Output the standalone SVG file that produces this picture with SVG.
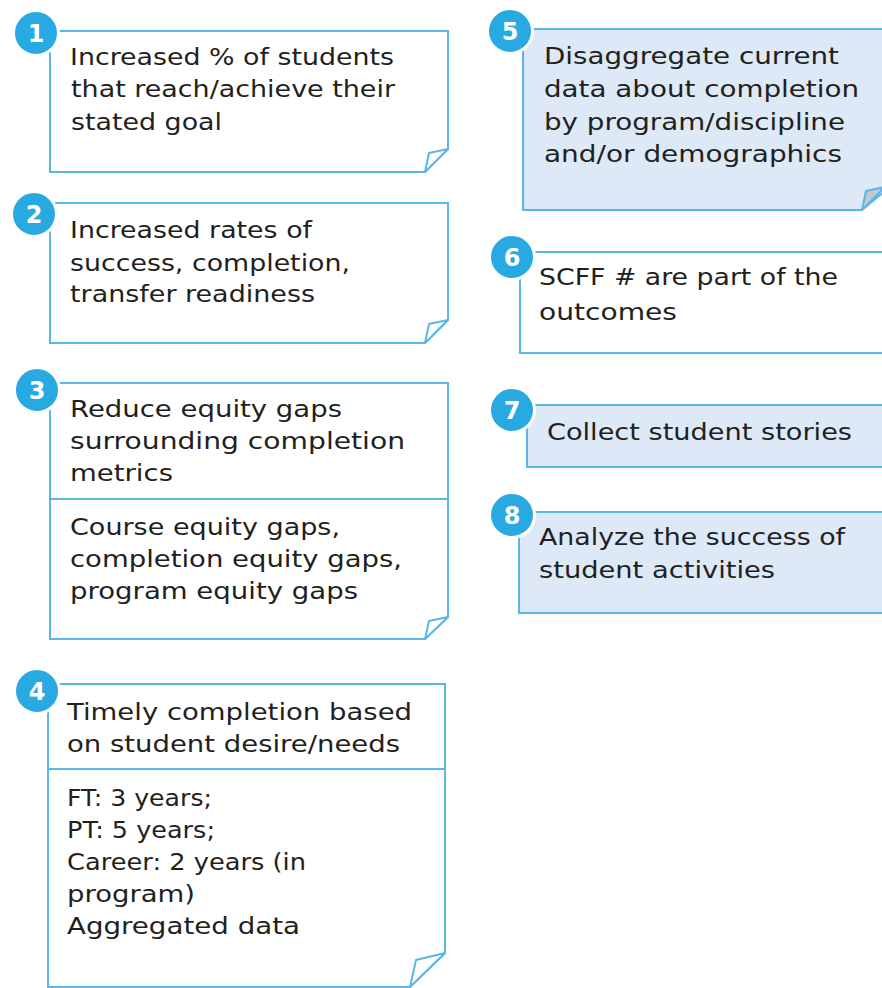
<svg xmlns="http://www.w3.org/2000/svg" width="882" height="988" viewBox="0 0 882 988">
<style>
.box{fill:#ffffff;stroke:#5ab6e8;stroke-width:2}
.boxb{fill:#dde9f6;stroke:#5ab6e8;stroke-width:2}
.div{stroke:#5ab6e8;stroke-width:2}
.flap{fill:#ffffff;stroke:#5ab6e8;stroke-width:2;stroke-linejoin:round}
.flapg{fill:#c4c8cc;stroke:#5ab6e8;stroke-width:2;stroke-linejoin:round}
.t{font-family:"DejaVu Sans","Liberation Sans",sans-serif;font-size:22.5px;fill:#231f20}
.badge{fill:#29a9e1;stroke:#ffffff;stroke-width:3}
.num{font-family:"DejaVu Sans","Liberation Sans",sans-serif;font-size:24px;font-weight:bold;fill:#ffffff;text-anchor:middle}
</style>
<rect width="882" height="988" fill="#ffffff"/>
<g id="connectors"></g>

<g id="node1">
<path class="box" d="M50 31 H448 V149 L425 172 H50 Z"/>
<path class="flap" d="M448 149 L429 153 L425 172 Z"/>
<text class="t" x="70" y="65" textLength="324" lengthAdjust="spacingAndGlyphs">Increased % of students</text>
<text class="t" x="71" y="97" textLength="324" lengthAdjust="spacingAndGlyphs">that reach/achieve their</text>
<text class="t" x="71" y="130" textLength="151" lengthAdjust="spacingAndGlyphs">stated goal</text>
<circle class="badge" cx="36" cy="33" r="22.5"/>
<text class="num" x="36" y="42">1</text>
</g>

<g id="node2">
<path class="box" d="M50 203 H448 V320 L425 343 H50 Z"/>
<path class="flap" d="M448 320 L429 324 L425 343 Z"/>
<text class="t" x="70" y="238" textLength="242" lengthAdjust="spacingAndGlyphs">Increased rates of</text>
<text class="t" x="70" y="271" textLength="280" lengthAdjust="spacingAndGlyphs">success, completion,</text>
<text class="t" x="70" y="302" textLength="245" lengthAdjust="spacingAndGlyphs">transfer readiness</text>
<circle class="badge" cx="34" cy="214" r="22.5"/>
<text class="num" x="34" y="223">2</text>
</g>

<g id="node3">
<path class="box" d="M50 383 H448 V617 L425 639 H50 Z"/>
<line class="div" x1="50" y1="499" x2="448" y2="499"/>
<path class="flap" d="M448 617 L429 621 L425 639 Z"/>
<text class="t" x="70" y="417" textLength="272" lengthAdjust="spacingAndGlyphs">Reduce equity gaps</text>
<text class="t" x="70" y="449" textLength="335" lengthAdjust="spacingAndGlyphs">surrounding completion</text>
<text class="t" x="70" y="481" textLength="103" lengthAdjust="spacingAndGlyphs">metrics</text>
<text class="t" x="70" y="535" textLength="270" lengthAdjust="spacingAndGlyphs">Course equity gaps,</text>
<text class="t" x="70" y="567" textLength="332" lengthAdjust="spacingAndGlyphs">completion equity gaps,</text>
<text class="t" x="70" y="599" textLength="288" lengthAdjust="spacingAndGlyphs">program equity gaps</text>
<circle class="badge" cx="37" cy="390" r="22.5"/>
<text class="num" x="37" y="399">3</text>
</g>

<g id="node4">
<path class="box" d="M48 684 H445 V953 L410 987 H48 Z"/>
<line class="div" x1="48" y1="769" x2="445" y2="769"/>
<path class="flap" d="M445 953 L416 960 L410 987 Z"/>
<text class="t" x="67" y="720" textLength="345" lengthAdjust="spacingAndGlyphs">Timely completion based</text>
<text class="t" x="67" y="752" textLength="333" lengthAdjust="spacingAndGlyphs">on student desire/needs</text>
<text class="t" x="67" y="806" textLength="145" lengthAdjust="spacingAndGlyphs">FT: 3 years;</text>
<text class="t" x="67" y="838" textLength="148" lengthAdjust="spacingAndGlyphs">PT: 5 years;</text>
<text class="t" x="67" y="870" textLength="239" lengthAdjust="spacingAndGlyphs">Career: 2 years (in</text>
<text class="t" x="67" y="902" textLength="128" lengthAdjust="spacingAndGlyphs">program)</text>
<text class="t" x="67" y="934" textLength="233" lengthAdjust="spacingAndGlyphs">Aggregated data</text>
<circle class="badge" cx="37" cy="691" r="22.5"/>
<text class="num" x="37" y="700">4</text>
</g>

<g id="node5">
<path class="boxb" d="M523 29 H890 V187 L862 210 H523 Z"/>
<path class="flapg" d="M885 187 L866 191 L862 210 Z"/>
<text class="t" x="544" y="64" textLength="295" lengthAdjust="spacingAndGlyphs">Disaggregate current</text>
<text class="t" x="544" y="97" textLength="315" lengthAdjust="spacingAndGlyphs">data about completion</text>
<text class="t" x="544" y="130" textLength="301" lengthAdjust="spacingAndGlyphs">by program/discipline</text>
<text class="t" x="544" y="162" textLength="298" lengthAdjust="spacingAndGlyphs">and/or demographics</text>
<circle class="badge" cx="510" cy="31" r="22.5"/>
<text class="num" x="510" y="40">5</text>
</g>

<g id="node6">
<rect class="box" x="520" y="252" width="370" height="101"/>
<text class="t" x="539" y="285" textLength="299" lengthAdjust="spacingAndGlyphs">SCFF # are part of the</text>
<text class="t" x="539" y="320" textLength="138" lengthAdjust="spacingAndGlyphs">outcomes</text>
<circle class="badge" cx="512" cy="257" r="22.5"/>
<text class="num" x="512" y="266">6</text>
</g>

<g id="node7">
<rect class="boxb" x="527" y="405" width="363" height="62"/>
<text class="t" x="547" y="440" textLength="305" lengthAdjust="spacingAndGlyphs">Collect student stories</text>
<circle class="badge" cx="512" cy="410" r="22.5"/>
<text class="num" x="512" y="419">7</text>
</g>

<g id="node8">
<rect class="boxb" x="519" y="512" width="371" height="101"/>
<text class="t" x="539" y="545" textLength="306" lengthAdjust="spacingAndGlyphs">Analyze the success of</text>
<text class="t" x="539" y="578" textLength="236" lengthAdjust="spacingAndGlyphs">student activities</text>
<circle class="badge" cx="512" cy="515" r="22.5"/>
<text class="num" x="512" y="524">8</text>
</g>
</svg>
